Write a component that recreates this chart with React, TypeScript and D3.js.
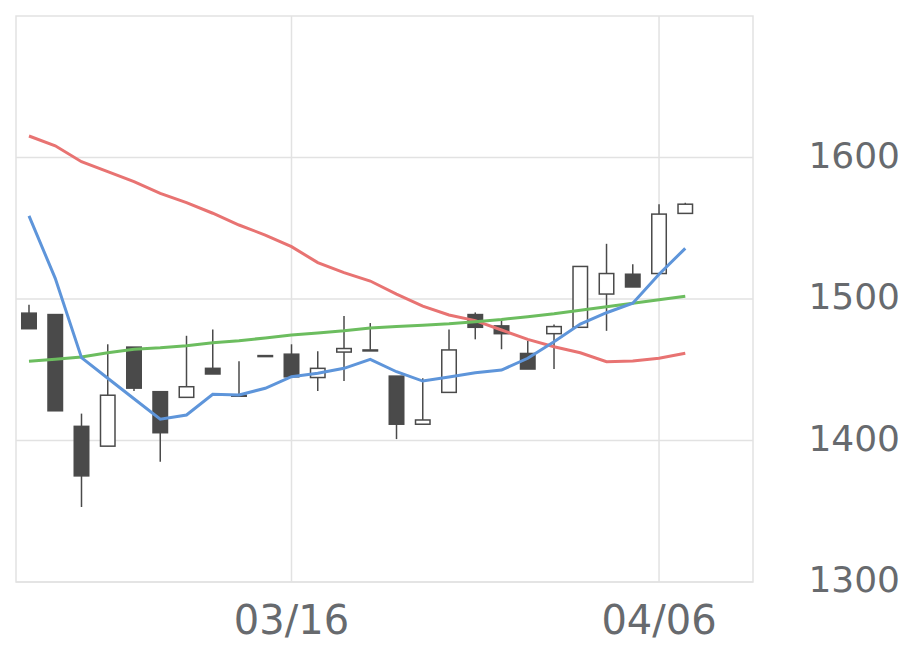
import React from "react";
import * as d3 from "d3";

const dates = ["03/02","03/03","03/04","03/05","03/06","03/09","03/10","03/11","03/12","03/13","03/16","03/17","03/18","03/19","03/23","03/24","03/25","03/26","03/27","03/30","03/31","04/01","04/02","04/03","04/06","04/07"];
const openV = [1490,1489,1410,1396,1466,1434.5,1430.5,1451,1432,1460,1461,1444.5,1462.5,1464,1445.5,1411.5,1434,1489,1481,1461.5,1475.5,1480,1503.5,1517.5,1518,1560.5];
const highV = [1496,1489,1419,1468,1466,1434.5,1474,1478.5,1456,1460,1468,1463,1488,1483,1445.5,1444,1478.5,1490.5,1485,1470.5,1482,1523,1539,1524.5,1567,1568];
const lowV = [1479,1421,1353,1396,1435,1385,1430.5,1447,1431,1460,1445,1435,1442,1464,1401,1411.5,1434,1471.5,1464.5,1450.5,1450.5,1480,1477.5,1508.5,1518,1560.5];
const closeV = [1479,1421,1375,1432,1437,1405.5,1438,1447,1431.5,1460,1445,1451,1465,1464,1411.5,1414.5,1464,1480,1475.5,1450.5,1480.5,1523,1518,1508.5,1560,1567];
const maShort = [1558.7,1514.6,1458.5,1444,1429.5,1415,1418,1432.6,1432.2,1436.9,1445.1,1447.5,1451,1457.4,1448.6,1442,1444.8,1447.9,1449.8,1458.1,1469.8,1482.3,1490.3,1497,1517.5,1535.8];
const maMid = [1615.2,1608.3,1597,1590,1582.9,1574.7,1568.1,1560.6,1552.3,1545.2,1537,1525.7,1518.6,1512.7,1503.5,1495,1488.7,1484.7,1478.1,1471.5,1466.3,1462,1455.7,1456.2,1458.1,1461.6];
const maLong = [1456,1457.5,1459,1462,1464.5,1465.5,1467,1469,1470.5,1472.5,1474.5,1476,1477.5,1479.5,1480.5,1481.5,1482.5,1484,1485.5,1487.5,1489.5,1492,1494.5,1497,1499.5,1502];
const yTicks = [1300,1400,1500,1600];
const xTickLabels = ["03/16","04/06"];

const W = 920, H = 669;
const L = 16, R = 753, T = 16, B = 582;

export default function App() {
  const x = d3.scaleLinear().domain([-0.495, 27.58]).range([L, R]);
  const y = d3.scaleLinear().domain([1300, 1700]).range([B, T]);
  const idx = dates.map((_, i) => i);
  const line = (vals: number[]) =>
    d3.line<number>().x((_, i) => x(i)).y((v) => y(v))(vals) || "";
  const bw = 14.5;
  const grid = "#e2e2e2";
  const font = "'DejaVu Sans', sans-serif";
  return (
    <svg width={W} height={H} style={{ position: "absolute", left: 0, top: 0, background: "#fff" }}>
      {yTicks.map((t) => (
        <line key={"g" + t} x1={L} x2={R} y1={y(t)} y2={y(t)} stroke={grid} strokeWidth={1.5} />
      ))}
      {xTickLabels.map((lab) => {
        const i = dates.indexOf(lab);
        return <line key={"v" + lab} x1={x(i)} x2={x(i)} y1={T} y2={B} stroke={grid} strokeWidth={1.5} />;
      })}
      <rect x={L} y={T} width={R - L} height={B - T} fill="none" stroke={grid} strokeWidth={1.5} />
      {idx.map((i) => {
        const up = closeV[i] >= openV[i];
        const top = y(Math.max(openV[i], closeV[i]));
        const bot = y(Math.min(openV[i], closeV[i]));
        const cx = x(i);
        return (
          <g key={"c" + i}>
            <line x1={cx} x2={cx} y1={y(highV[i])} y2={y(lowV[i])} stroke="#4a4a4a" strokeWidth={1.5} />
            <rect x={cx - bw / 2} y={top} width={bw} height={Math.max(1, bot - top)}
              fill={up ? "#ffffff" : "#4a4a4a"} stroke="#4a4a4a" strokeWidth={1.5} />
          </g>
        );
      })}
      <path d={line(maMid)} fill="none" stroke="#e87372" strokeWidth={3} />
      <path d={line(maLong)} fill="none" stroke="#6cbd5f" strokeWidth={3} />
      <path d={line(maShort)} fill="none" stroke="#5e95da" strokeWidth={3} />
      {yTicks.map((t) => (
        <text key={"t" + t} x={900} y={y(t) + 10} textAnchor="end" fontFamily={font} fontSize={36} fill="#676a6e">{t}</text>
      ))}
      {xTickLabels.map((lab) => (
        <text key={"x" + lab} x={x(dates.indexOf(lab))} y={634} textAnchor="middle" fontFamily={font} fontSize={40} fill="#676a6e">{lab}</text>
      ))}
    </svg>
  );
}
